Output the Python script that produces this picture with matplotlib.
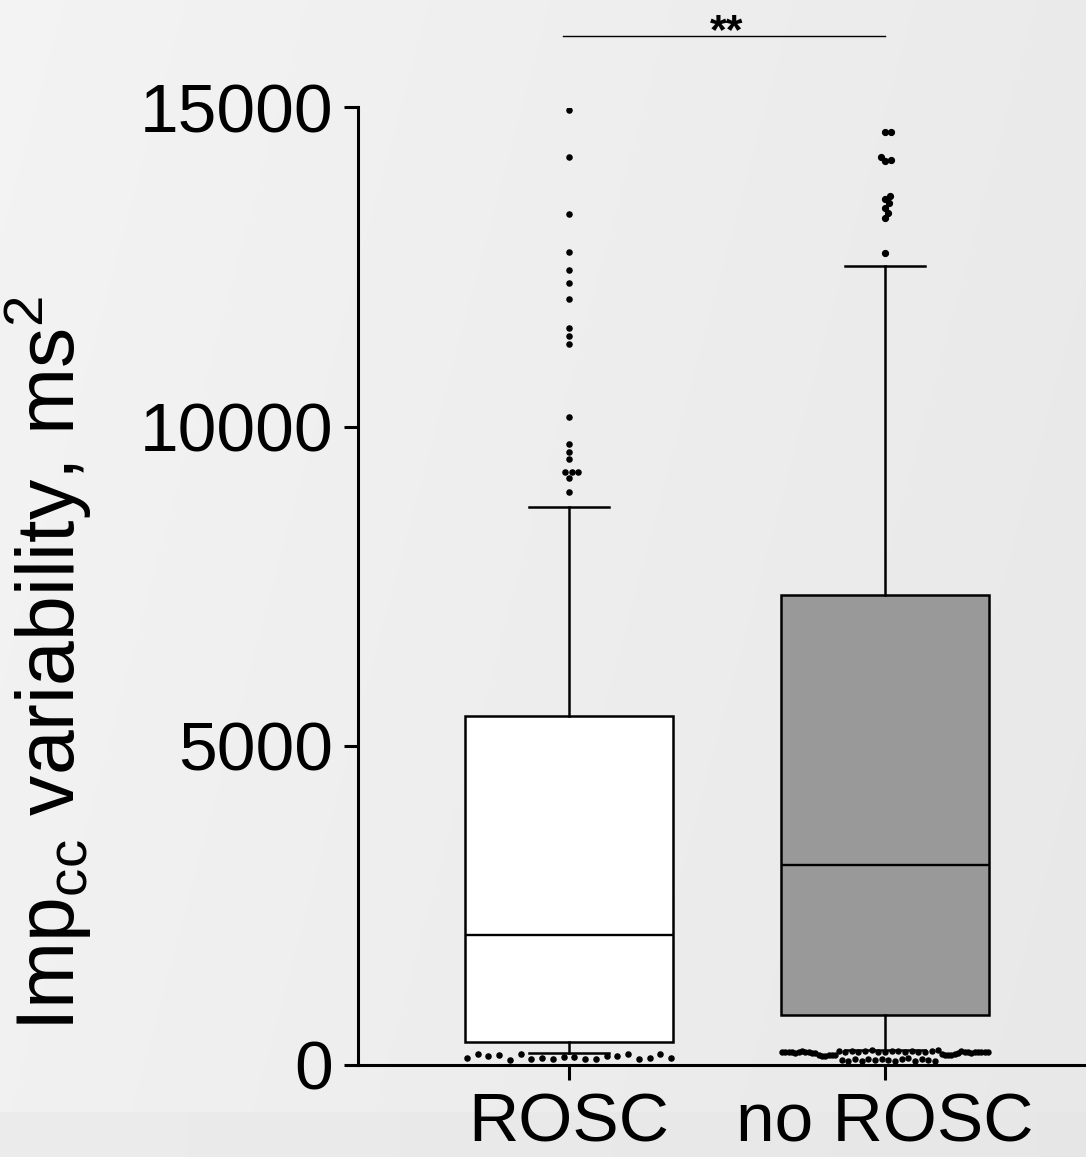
import numpy as np
import matplotlib.pyplot as plt

# box statistics (ms^2)
groups = ['ROSC', 'no ROSC']
q1 = [365, 783]
med = [2036, 3133]
q3 = [5468, 7366]
whis_lo = [190, 230]
whis_hi = [8742, 12523]
box_fill = ['white', '#999999']

# individual points outside the whiskers
rosc_high = [14958, 14221, 13334, 12738, 12456, 12246, 12001, 11541, 11415, 11290,
             10152, 9729, 9608, 9487, 9284, 9284, 9284, 9190, 8981]
rosc_low = [105, 168, 141, 157, 78, 168, 94, 105, 89, 121,
            121, 89, 94, 141, 141, 168, 89, 115, 168, 105]
norosc_high = [14624, 14624, 14221, 14180, 14158, 13616, 13574, 13500, 13428,
               13350, 13271, 12723]
norosc_low = [205, 205, 205, 205, 195, 200, 215, 205, 200, 195, 185, 150,
              140, 145, 150, 150, 160,
              220, 80, 210, 60, 225, 90, 200, 70, 215, 100, 230, 75, 210, 95,
              205, 85, 220, 60, 215, 90, 200, 110, 225, 70, 210, 95, 205, 80, 220, 65,
              235, 180, 160, 150, 155, 170, 190, 215, 200, 210, 195, 210, 205, 200, 200, 200]
yticks = [0, 5000, 10000, 15000]
sig_label = '**'

plt.rcParams['font.family'] = ['Liberation Sans', 'DejaVu Sans']
plt.rcParams['mathtext.fontset'] = 'custom'
plt.rcParams['mathtext.rm'] = 'Liberation Sans'

W, H = 1086, 1157
fig = plt.figure(figsize=(W / 100, H / 100), dpi=100)

# slide-like light gray background
bg = fig.add_axes([0, 0, 1, 1], zorder=-10)
xx = np.linspace(0, 1, W)[None, :]
yy = np.linspace(0, 1, H)[:, None]
img = 0.955 - 0.035 * xx - 0.01 * yy
img = np.broadcast_to(img, (H, W)).copy()
img[1112:, :] = 0.905 + 0.02 * (1 - xx[0])
bg.imshow(np.dstack([img] * 3), aspect='auto', extent=[0, 1, 0, 1], origin='upper')
bg.axis('off')

ax = fig.add_axes([358 / W, 92 / H, 728 / W, (1065 - 107.5) / H])
ax.patch.set_alpha(0)
ax.set_xlim(0.332, 2.636)
ax.set_ylim(0, 15000)

stats = []
for i, g in enumerate(groups):
    stats.append(dict(label=g, q1=q1[i], med=med[i], q3=q3[i],
                      whislo=whis_lo[i], whishi=whis_hi[i]))
bp = ax.bxp(stats, positions=[1, 2], widths=0.658, capwidths=0.253,
            patch_artist=True, showfliers=False,
            boxprops=dict(linewidth=1.8, edgecolor='black'),
            medianprops=dict(color='black', linewidth=1.7),
            whiskerprops=dict(color='black', linewidth=1.8),
            capprops=dict(color='black', linewidth=1.8))
for patch, c in zip(bp['boxes'], box_fill):
    patch.set_facecolor(c)


def spread_row(vals, pos, width):
    off = np.linspace(-width / 2, width / 2, len(vals))
    return pos + off, np.array(vals)


def swarm(vals, pos, diam):
    # greedy beeswarm in pixel space
    vals = np.sort(np.array(vals, dtype=float))
    p0 = ax.transData.transform([(pos, 0)])[0]
    p1 = ax.transData.transform([(pos + 1, 0)])[0]
    pxx = p1[0] - p0[0]
    ypx = ax.transData.transform(np.column_stack([np.full(len(vals), pos), vals]))[:, 1]
    placed = []
    xs = []
    for y in ypx:
        cands = [0.0]
        for (px, py) in placed:
            dy = abs(py - y)
            if dy < diam:
                dx = np.sqrt(diam ** 2 - dy ** 2)
                cands += [px + dx, px - dx]
        cands.sort(key=abs)
        for c in cands:
            if all((c - px) ** 2 + (y - py) ** 2 >= diam ** 2 - 1e-6 for px, py in placed):
                break
        placed.append((c, y))
        xs.append(pos + c / pxx)
    return np.array(xs), vals


x, y = swarm(rosc_high, 1, 6.5)
ax.plot(x, y, 'o', color='black', ms=3.7, zorder=5)
x, y = spread_row(rosc_low, 1, 0.646)
ax.plot(x, y, 'o', color='black', ms=3.7, zorder=5, clip_on=False)
x, y = swarm(norosc_high, 2, 6.0)
ax.plot(x, y, 'o', color='black', ms=4.2, zorder=5)
x, y = spread_row(norosc_low, 2, 0.652)
ax.plot(x, y, 'o', color='black', ms=3.6, zorder=5, clip_on=False)

# significance bar
ax.plot([0.98, 2.0], [16120, 16120], color='black', lw=1.0, clip_on=False)
ax.text(1.5, 16011, sig_label, ha='center', va='baseline', fontsize=31,
        fontweight='bold')

ax.spines['top'].set_visible(False)
ax.spines['right'].set_visible(False)
ax.spines['left'].set_linewidth(2.2)
ax.spines['bottom'].set_linewidth(2.2)
ax.set_yticks(yticks)
ax.set_yticklabels([str(t) for t in yticks])
ax.tick_params(axis='y', length=10, width=2.2, labelsize=50, pad=8)
ax.set_xticks([1, 2])
ax.set_xticklabels(groups)
ax.tick_params(axis='x', length=11, width=2.2, labelsize=50, pad=8)

fig.text(48 / W, 1 - 664 / H, r'Imp$_{\mathregular{cc}}$ variability, ms$^{\mathregular{2}}$',
         rotation=90, ha='center', va='center', fontsize=58)

fig.savefig('out.png', dpi=100)
